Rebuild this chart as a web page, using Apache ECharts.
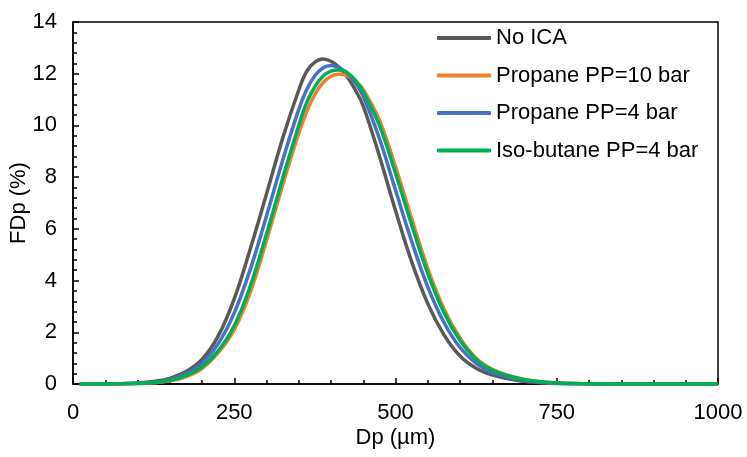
<!DOCTYPE html>
<html>
<head>
<meta charset="utf-8">
<title>FDp</title>
<script src="https://cdn.jsdelivr.net/npm/echarts@6/dist/echarts.min.js"></script>
<style>
  html, body { margin: 0; padding: 0; background: #fff; }
  #main { width: 747px; height: 457px; }
</style>
</head>
<body>
<div id="main"></div>
<script>
// particle diameter (µm)
var dp = [10, 25, 50, 75, 100, 125, 150, 175, 200, 225, 250, 275, 300, 325, 350, 362.5, 375, 387.5, 400, 412.5, 425, 437.5, 450, 475,
  500, 525, 550, 575, 600, 625, 650, 675, 700, 725, 750, 775, 800, 825, 850, 875, 900, 925, 950, 975, 1000];

// FDp (%) for each case
var noIca = [0, 0, 0, 0.012, 0.04, 0.1, 0.22, 0.48, 0.95, 1.85, 3.3, 5.24, 7.35, 9.5, 11.37, 12.1, 12.45, 12.57, 12.48, 12.25, 11.88, 11.38, 10.75, 8.82,
  6.71, 4.73, 3.11, 1.91, 1.08, 0.61, 0.35, 0.2, 0.1, 0.05, 0.02, 0.01, 0, 0, 0, 0, 0, 0, 0, 0, 0];
var propane10 = [0, 0, 0, 0.004, 0.015, 0.045, 0.12, 0.28, 0.6, 1.2, 2.1, 3.55, 5.55, 7.69, 9.7, 10.55, 11.2, 11.65, 11.9, 11.98, 11.93, 11.72, 11.38, 10.2,
  8.4, 6.4, 4.47, 2.91, 1.78, 1.0, 0.57, 0.33, 0.18, 0.09, 0.05, 0.02, 0.01, 0, 0, 0, 0, 0, 0, 0, 0];
var propane4 = [0, 0, 0, 0.008, 0.028, 0.075, 0.17, 0.4, 0.8, 1.55, 2.75, 4.45, 6.5, 8.64, 10.62, 11.4, 11.92, 12.22, 12.32, 12.23, 12.03, 11.66, 11.12, 9.5,
  7.5, 5.52, 3.76, 2.39, 1.41, 0.8, 0.45, 0.26, 0.14, 0.07, 0.03, 0.015, 0.005, 0, 0, 0, 0, 0, 0, 0, 0];
var isobutane4 = [0, 0, 0, 0.005, 0.018, 0.055, 0.14, 0.32, 0.66, 1.28, 2.25, 3.8, 5.8, 7.95, 10.0, 10.9, 11.5, 11.9, 12.1, 12.14, 12.05, 11.75, 11.3, 10.0,
  8.15, 6.16, 4.28, 2.77, 1.68, 0.95, 0.54, 0.31, 0.17, 0.09, 0.04, 0.02, 0.01, 0, 0, 0, 0, 0, 0, 0, 0];

var names = ['No ICA', 'Propane PP=10 bar', 'Propane PP=4 bar', 'Iso-butane PP=4 bar'];
var colors = ['#595959', '#ED7D31', '#4472C4', '#00B050'];
var values = [noIca, propane10, propane4, isobutane4];

function pairs(ys) {
  return dp.map(function (x, i) { return [x, ys[i]]; });
}

var font = 'Liberation Sans, Arial, sans-serif';

var chart = echarts.init(document.getElementById('main'));
chart.setOption({
  animation: false,
  grid: {
    left: 73, right: 29, top: 22, bottom: 73,
    outerBoundsMode: 'none',
    show: true, borderColor: '#000', borderWidth: 1.5, backgroundColor: '#fff'
  },
  legend: {
    orient: 'vertical',
    left: 437, top: 27,
    padding: 0,
    icon: 'roundRect',
    itemWidth: 54, itemHeight: 4, itemGap: 15.5,
    textStyle: { fontFamily: font, fontSize: 22, lineHeight: 22, color: '#000' },
    data: names
  },
  xAxis: {
    type: 'value', min: 0, max: 1000, interval: 250,
    name: 'Dp (µm)', nameLocation: 'middle', nameGap: 43, nameMoveOverlap: false,
    nameTextStyle: { fontFamily: font, fontSize: 22, color: '#000' },
    axisLine: { lineStyle: { color: '#000', width: 1.5 } },
    axisTick: { inside: true, length: 6, lineStyle: { color: '#000', width: 1.5 } },
    minorTick: { show: true, splitNumber: 5, length: 4, lineStyle: { color: '#000', width: 1.5 } },
    axisLabel: {
      fontFamily: font, fontSize: 22, color: '#000', margin: 18,
      formatter: function (v) { return String(v); }
    },
    splitLine: { show: false }
  },
  yAxis: {
    type: 'value', min: 0, max: 14, interval: 2,
    name: 'FDp (%)', nameLocation: 'middle', nameGap: 43, nameRotate: 90, nameMoveOverlap: false,
    nameTextStyle: { fontFamily: font, fontSize: 22, color: '#000' },
    axisLine: { show: true, lineStyle: { color: '#000', width: 1.5 } },
    axisTick: { show: true, inside: true, length: 6, lineStyle: { color: '#000', width: 1.5 } },
    minorTick: { show: true, splitNumber: 5, length: 4, lineStyle: { color: '#000', width: 1.5 } },
    axisLabel: { fontFamily: font, fontSize: 22, color: '#000', margin: 16 },
    splitLine: { show: false }
  },
  series: names.map(function (n, i) {
    return {
      name: n,
      type: 'line',
      smooth: 0.4,
      symbol: 'none',
      color: colors[i],
      lineStyle: { width: 3.5, color: colors[i] },
      data: pairs(values[i])
    };
  })
});
</script>
</body>
</html>
